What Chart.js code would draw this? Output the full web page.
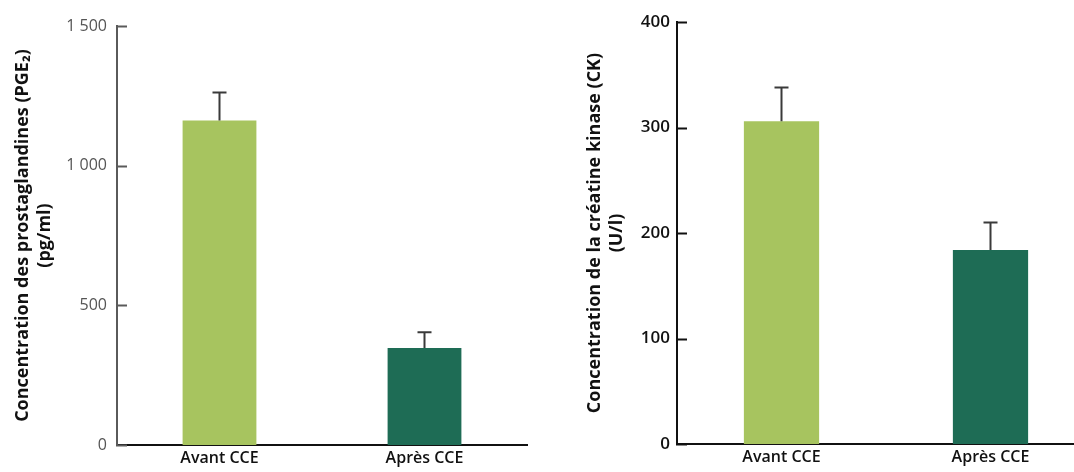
<!DOCTYPE html>
<html lang="fr">
<head>
<meta charset="UTF-8">
<script src="https://cdn.jsdelivr.net/npm/chart.js"></script>
<title>PGE2 / CK</title>
<style>
    body { margin: 0; background: #fff; overflow: hidden; width: 1074px; height: 472px; position: relative; }
    .box { position: absolute; top: 0; height: 472px; }
</style>
</head>
<body>
<div class="box" style="left:0;width:540px;"><canvas id="pge"></canvas></div>
<div class="box" style="left:572px;width:530px;"><canvas id="ck"></canvas></div>

<script>
    // data
    const labels = ['Avant CCE', 'Après CCE'];
    const pgeValues = [1162, 347];
    const pgeErrors = [100, 57];
    const pgeTicks = [0, 500, 1000, 1500];
    const ckValues = [306, 184];
    const ckErrors = [32, 26];
    const ckTicks = [0, 100, 200, 300, 400];
    const barColors = ['#a7c45f', '#1e6c55'];

    // upper error bar + cap
    const errorBars = {
        id: 'errorBars',
        afterDatasetsDraw(chart, args, opts) {
            const ctx = chart.ctx;
            const y = chart.scales.y;
            const meta = chart.getDatasetMeta(0);
            const ds = chart.data.datasets[0];
            ctx.save();
            ctx.strokeStyle = opts.color;
            ctx.lineWidth = 2;
            meta.data.forEach((bar, i) => {
                const v = ds.data[i];
                const top = y.getPixelForValue(v + opts.errors[i]);
                const base = y.getPixelForValue(v);
                ctx.beginPath();
                ctx.moveTo(bar.x, base);
                ctx.lineTo(bar.x, top);
                ctx.moveTo(bar.x - 7, top);
                ctx.lineTo(bar.x + 7, top);
                ctx.stroke();
            });
            ctx.restore();
        }
    };

    // small ticks pointing into the plot
    const innerTicks = {
        id: 'innerTicks',
        afterDraw(chart, args, opts) {
            const ctx = chart.ctx;
            const y = chart.scales.y;
            const left = chart.chartArea.left;
            ctx.save();
            ctx.strokeStyle = opts.color;
            ctx.lineWidth = 2;
            y.ticks.forEach(t => {
                const py = Math.round(y.getPixelForValue(t.value)) + 0.5;
                ctx.beginPath();
                ctx.moveTo(left - 1, py);
                ctx.lineTo(left + 10, py);
                ctx.stroke();
            });
            ctx.restore();
        }
    };

    function makeChart(id, values, errors, ticks, cfg) {
        return new Chart(document.getElementById(id), {
            type: 'bar',
            data: {
                labels: labels,
                datasets: [{
                    data: values,
                    backgroundColor: barColors,
                    borderWidth: 0,
                    barPercentage: 0.36,
                    categoryPercentage: 1
                }]
            },
            plugins: [errorBars, innerTicks],
            options: {
                responsive: true,
                maintainAspectRatio: false,
                animation: false,
                layout: { padding: cfg.padding },
                plugins: {
                    legend: { display: false },
                    tooltip: { enabled: false },
                    errorBars: { errors: errors, color: '#3a3a3a' },
                    innerTicks: { color: cfg.axisColor }
                },
                scales: {
                    x: {
                        grid: { display: false, drawTicks: false },
                        border: { color: '#111', width: 2 },
                        ticks: {
                            color: '#111',
                            padding: 4,
                            font: { family: 'Open Sans', size: 16, weight: '600' }
                        },
                        afterFit: s => { s.height = cfg.xHeight; }
                    },
                    y: {
                        min: ticks[0],
                        max: ticks[ticks.length - 1],
                        grid: { display: false, drawTicks: false },
                        border: { color: cfg.axisColor, width: 2 },
                        afterBuildTicks: s => { s.ticks = ticks.map(v => ({ value: v })); },
                        ticks: {
                            color: cfg.tickColor,
                            padding: cfg.tickPad,
                            font: cfg.tickFont,
                            callback: v => String(v).replace(/\B(?=(\d{3})+$)/g, ' ')
                        },
                        title: {
                            display: true,
                            text: cfg.title,
                            color: '#111',
                            padding: 0,
                            font: { family: 'Open Sans', size: 18, weight: 'bold', lineHeight: 1.2 }
                        },
                        afterFit: s => { s.width = cfg.yWidth; }
                    }
                }
            }
        });
    }

    makeChart('pge', pgeValues, pgeErrors, pgeTicks, {
        padding: { left: 12, top: 26, right: 13, bottom: 0 },
        yWidth: 105,
        xHeight: 27,
        axisColor: '#5a5a5a',
        tickColor: '#555',
        tickPad: 10,
        tickFont: { family: 'Open Sans', size: 16 },
        title: ['Concentration des prostaglandines (PGE₂)', '(pg/ml)']
    });

    makeChart('ck', ckValues, ckErrors, ckTicks, {
        padding: { left: 12, top: 22, right: 7, bottom: 0 },
        yWidth: 93,
        xHeight: 28,
        axisColor: '#111',
        tickColor: '#111',
        tickPad: 7,
        tickFont: { family: 'Open Sans', size: 17, weight: '600' },
        title: ['Concentration de la créatine kinase (CK)', '(U/l)']
    });
</script>
</body>
</html>
